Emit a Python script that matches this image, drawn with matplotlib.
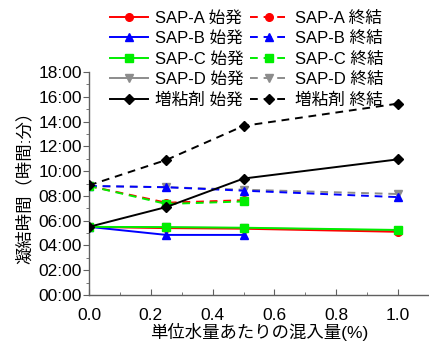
import matplotlib
matplotlib.use("Agg")
import matplotlib.pyplot as plt
import numpy as np
from matplotlib.ticker import FuncFormatter, MultipleLocator

plt.rcParams['font.family'] = ['Liberation Sans', 'Noto Sans CJK JP']

x = [0.0, 0.25, 0.5, 1.0]
names = ["SAP-A", "SAP-B", "SAP-C", "SAP-D", "増粘剤"]
start = {
    "SAP-A": [5.5, 5.40, 5.35, 5.10],
    "SAP-B": [5.5, 4.85, 4.85, np.nan],
    "SAP-C": [5.5, 5.48, 5.43, 5.25],
    "SAP-D": [5.5, 5.45, 5.40, 5.20],
    "増粘剤": [5.5, 7.10, 9.40, 10.95],
}
end = {
    "SAP-A": [8.8, 7.45, 7.65, np.nan],
    "SAP-B": [8.8, 8.70, 8.42, 7.90],
    "SAP-C": [8.8, 7.35, 7.55, np.nan],
    "SAP-D": [8.8, 8.70, 8.50, 8.15],
    "増粘剤": [8.85, 10.90, 13.65, 15.45],
}
colors = {"SAP-A": "#ff0000", "SAP-B": "#0000ff", "SAP-C": "#00ee00",
          "SAP-D": "#8c8c8c", "増粘剤": "#000000"}
markers = {"SAP-A": "o", "SAP-B": "^", "SAP-C": "s", "SAP-D": "v", "増粘剤": "D"}
zorders = {"SAP-A": 3, "SAP-B": 4, "SAP-C": 5, "SAP-D": 2, "増粘剤": 6}

fig = plt.figure(figsize=(4.29, 3.41), dpi=100)
ax = fig.add_axes([89/429, 1-295/341, 1-89/429, (295-72)/341])

hs, he = [], []
for n in names:
    ms = 5.5 if markers[n] != "D" else 5
    l1, = ax.plot(x, start[n], color=colors[n], marker=markers[n], ms=ms,
                  lw=1.4, zorder=zorders[n], label=f"{n} 始発")
    l2, = ax.plot(x, end[n], color=colors[n], marker=markers[n], ms=ms,
                  lw=1.4, ls=(0, (4, 3)), zorder=zorders[n], label=f"{n} 終結")
    hs.append(l1); he.append(l2)

ax.set_xlim(0, 1.1)
ax.set_ylim(0, 18)
ax.xaxis.set_major_locator(MultipleLocator(0.2))
ax.xaxis.set_minor_locator(MultipleLocator(0.1))
ax.yaxis.set_major_locator(MultipleLocator(2))
ax.yaxis.set_minor_locator(MultipleLocator(1))
ax.xaxis.set_major_formatter(FuncFormatter(lambda v, p: f"{v:.1f}" if v <= 1.0001 else ""))
ax.yaxis.set_major_formatter(FuncFormatter(lambda v, p: f"{int(round(v)):02d}:00"))

for s in ["top", "right"]:
    ax.spines[s].set_visible(False)
for s in ["left", "bottom"]:
    ax.spines[s].set_color("#606060")
    ax.spines[s].set_linewidth(1.0)

ax.tick_params(axis='x', which='both', direction='in', labelsize=12.5, colors="#606060",
               labelcolor="black", pad=9)
ax.tick_params(axis='x', which='major', length=4)
ax.tick_params(axis='x', which='minor', length=2.5)
ax.tick_params(axis='y', which='both', direction='out', labelsize=12.5, colors="#606060",
               labelcolor="black", pad=1)
ax.tick_params(axis='y', which='major', length=4)
ax.tick_params(axis='y', which='minor', length=2)

ax.set_ylabel("凝結時間（時間:分）", fontsize=12.5, labelpad=4)
ax.set_xlabel("単位水量あたりの混入量(%)", fontsize=12.5, labelpad=0)

fig.legend(hs + he, [h.get_label() for h in hs + he], ncol=2, loc='upper left',
           bbox_to_anchor=(103/429, 1-4/341), frameon=False, fontsize=12,
           handlelength=2.3, labelspacing=0.32, columnspacing=0.4,
           handletextpad=0.4, borderaxespad=0)

fig.savefig("out.png", dpi=100)
